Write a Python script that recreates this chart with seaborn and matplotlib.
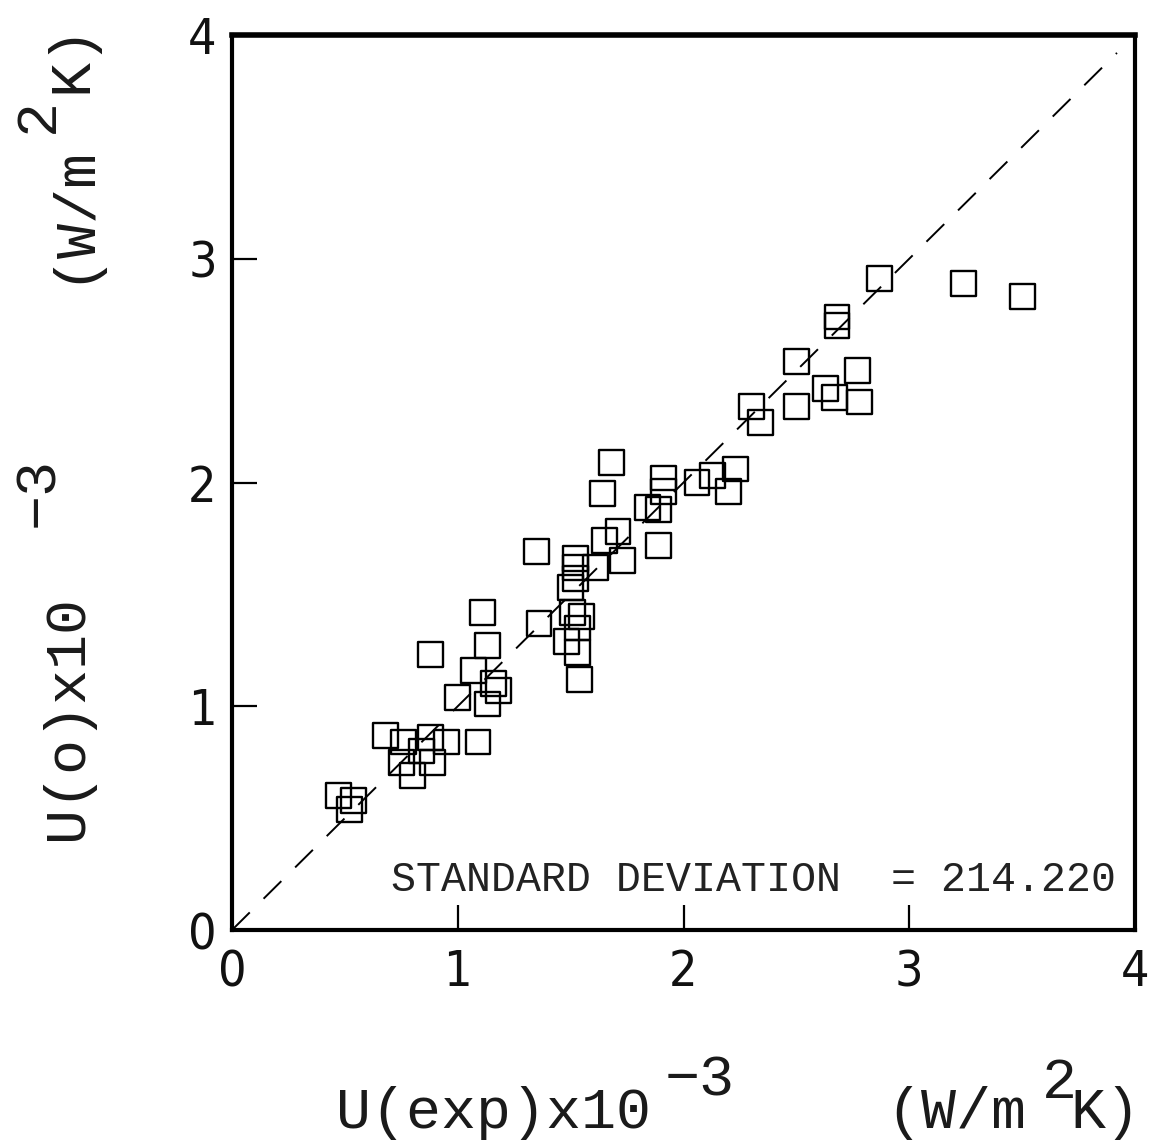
import matplotlib
matplotlib.use("Agg")
import matplotlib.pyplot as plt
import seaborn as sns
import pandas as pd

# Overall heat-transfer coefficient: measured vs. correlated (x10^-3 W/m^2K)
u_exp = [0.47, 0.54, 0.52, 0.68, 0.76, 0.88, 0.95, 1.09, 0.75, 0.80,
         0.89, 0.84, 0.88, 1.00, 1.07, 1.11, 1.13, 1.16, 1.18, 1.13,
         1.35, 1.36, 1.48, 1.51, 1.55, 1.53, 1.53, 1.54, 1.50, 1.52,
         1.52, 1.52, 1.61, 1.64, 1.65, 1.68, 1.71, 1.73, 1.84, 1.89,
         1.91, 1.91, 1.89, 2.06, 2.13, 2.20, 2.23, 2.30, 2.34, 2.50,
         2.50, 2.63, 2.67, 2.77, 2.78, 2.68, 2.68, 2.87, 3.24, 3.50]
u_calc = [0.60, 0.58, 0.54, 0.87, 0.84, 0.86, 0.84, 0.84, 0.75, 0.69,
          0.75, 0.80, 1.23, 1.04, 1.16, 1.42, 1.27, 1.10, 1.07, 1.01,
          1.69, 1.37, 1.29, 1.42, 1.40, 1.35, 1.24, 1.12, 1.53, 1.66,
          1.62, 1.57, 1.62, 1.95, 1.74, 2.09, 1.78, 1.65, 1.89, 1.88,
          1.96, 2.02, 1.72, 2.00, 2.03, 1.96, 2.06, 2.34, 2.27, 2.54,
          2.34, 2.42, 2.38, 2.50, 2.36, 2.74, 2.70, 2.91, 2.89, 2.83]
parity_line = [0.0, 3.92]
ticks = [0, 1, 2, 3, 4]
tick_labels = ["0", "1", "2", "3", "4"]
std_text = "STANDARD DEVIATION  = 214.220"

sns.set_theme(style="white")
plt.rcParams["lines.scale_dashes"] = False
tick_font = ["DejaVu Sans", "Liberation Sans"]
label_font = ["Liberation Mono", "DejaVu Sans Mono"]

W, H = 1152, 1142
fig = plt.figure(figsize=(W / 100, H / 100), dpi=100)
ax = fig.add_axes([232 / W, 1 - 930 / H, (1135 - 232) / W, (930 - 35) / H])

df = pd.DataFrame({"u_exp": u_exp, "u_calc": u_calc})
sns.lineplot(x=parity_line, y=parity_line, ax=ax, color="black",
             linewidth=1.4, dashes=False, linestyle=(0, (18, 14)))
sns.scatterplot(data=df, x="u_exp", y="u_calc", ax=ax, marker="s", s=320,
                facecolor="none", edgecolor="black", linewidth=1.7)

ax.set_xlim(0, 4)
ax.set_ylim(0, 4)
ax.set_xticks(ticks)
ax.set_yticks(ticks)
ax.set_xticklabels(tick_labels, fontfamily=tick_font, fontsize=36,
                   fontstretch="condensed", fontweight="light")
ax.set_yticklabels(tick_labels, fontfamily=tick_font, fontsize=36,
                   fontstretch="condensed", fontweight="light")
ax.tick_params(axis="both", direction="in", length=18, width=1.6,
               color="black", labelcolor="#111111",
               bottom=True, left=True, top=False, right=False)
ax.tick_params(axis="x", pad=13)
ax.tick_params(axis="y", pad=11)
ax.set_xlabel("")
ax.set_ylabel("")
for side, lw in [("left", 3.0), ("bottom", 3.0), ("right", 3.0), ("top", 4.0)]:
    ax.spines[side].set_visible(True)
    ax.spines[side].set_linewidth(lw)
    ax.spines[side].set_color("black")

ax.text(0.577, 0.056, std_text, transform=ax.transAxes, ha="center",
        va="center", fontfamily=label_font, fontsize=30, color="#222222")


def ftext(px, py, s, **kw):
    fig.text(px / W, 1 - py / H, s, fontfamily=label_font, fontsize=42,
             color="#1a1a1a", rotation_mode="anchor", ha="left",
             va="baseline", **kw)


# x-axis title
ftext(336, 1128, "U(exp)x10")
ftext(665, 1096, "\u22123")
ftext(886, 1128, "(W/m")
ftext(1042, 1098, "2")
ftext(1070, 1128, "K)")

# y-axis title
ftext(82, 840, "U(o)x10", rotation=90)
ftext(53, 527, "\u22123", rotation=90)
ftext(86, 283, "(W/m", rotation=90)
ftext(53, 133, "2", rotation=90)
ftext(86, 93, "K)", rotation=90)

fig.savefig("out.png", dpi=100, facecolor="white")
